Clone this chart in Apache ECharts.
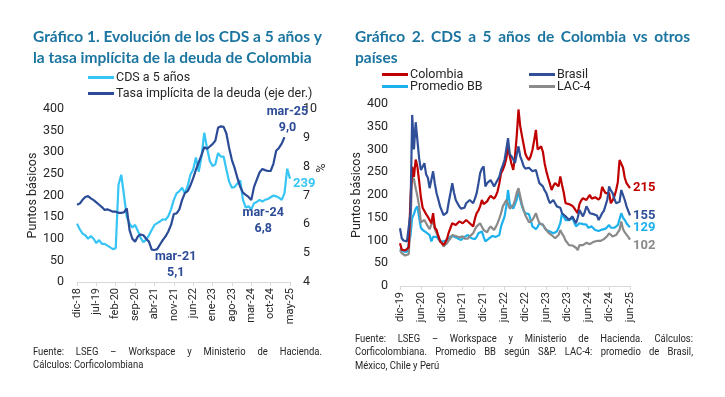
<!DOCTYPE html>
<html>
<head>
<meta charset="utf-8">
<script src="https://cdn.jsdelivr.net/npm/echarts@6/dist/echarts.min.js"></script>
<style>
  html, body { margin: 0; padding: 0; background: #fff; }
  #main { width: 725px; height: 397px; }
</style>
</head>
<body>
<div id="main"></div>
<script>
// meses abreviados para construir las etiquetas del eje
var mesAbr = ['ene','feb','mar','abr','may','jun','jul','ago','sep','oct','nov','dic'];

var buildMonths = function(year, month, count) {
    var out = [];
    for (var i = 0; i < count; i++) {
        var m = (month + i) % 12;
        var y = year + Math.floor((month + i) / 12);
        out.push(mesAbr[m] + '-' + String(y).slice(2));
    }
    return out;
};

// Gráfico 1: mensual dic-18 .. may-25
var mesesG1 = buildMonths(2018, 11, 78);
var cdsG1 = [135,122,112,108,100,106,100,90,97,88,
             88,84,80,76,78,225,248,200,150,135,
             126,132,118,102,92,98,108,120,132,136,
             140,145,144,152,168,190,205,210,218,205,
             222,248,260,288,255,290,345,310,280,268,
             272,298,290,290,260,232,218,220,228,235,
             190,172,175,168,182,185,190,186,190,192,
             196,200,198,195,190,205,262,239];
var tasaG1 = [6.68,6.72,6.85,6.95,6.98,6.90,6.84,6.76,6.68,6.60,
              6.50,6.52,6.48,6.44,6.44,6.40,6.40,6.42,6.55,5.80,
              5.50,5.40,5.58,5.65,5.62,5.50,5.40,5.12,5.11,5.14,
              5.30,5.45,5.58,5.75,5.98,6.36,6.38,6.52,6.85,7.08,
              7.15,7.35,7.60,7.90,8.15,8.40,8.68,8.62,8.70,8.78,
              8.90,9.35,9.40,9.38,9.15,8.65,8.23,7.95,7.60,7.30,
              7.10,7.02,6.95,6.84,7.30,7.55,7.80,7.92,7.88,7.85,
              7.85,8.10,8.55,8.65,8.80,9.02,null,null];
var hitosG1 = [['mar-21', 5.12, [24, 15]], ['mar-24', 6.84, [12, 21]], ['mar-25', 9.02, [3, -17]]];

// Gráfico 2: quincenal dic-19 .. jun-25
var mesesG2 = buildMonths(2019, 11, 67);
var quincenasG2 = [];
mesesG2.forEach(function(m) { quincenasG2.push(m); quincenasG2.push(m + ' (2q)'); });
quincenasG2 = quincenasG2.slice(0, 133);

var colombia = [94,80,76,78,74,85,190,262,240,278,
                262,230,195,172,165,158,152,145,138,160,
                128,123,110,98,94,90,96,104,118,128,
                138,136,134,138,142,140,138,142,145,141,
                138,134,131,148,160,166,175,189,180,178,
                186,193,198,202,192,198,208,225,248,255,
                265,280,307,285,268,255,285,330,388,351,
                330,310,290,282,277,285,299,320,343,300,
                300,307,295,270,252,238,225,211,220,226,
                222,219,241,222,205,182,178,180,182,176,
                171,165,160,180,188,193,190,189,195,200,
                192,188,195,197,190,195,218,210,204,200,
                204,182,188,197,210,228,277,274,260,238,
                226,222,215];
var brasil = [127,105,100,99,98,100,160,376,300,360,
              320,280,255,262,270,245,238,215,211,252,
              225,204,190,175,165,156,158,162,185,205,
              226,205,189,182,175,170,167,172,182,186,
              189,185,182,192,204,225,248,258,263,219,
              226,228,233,226,219,222,233,240,255,265,
              277,300,325,290,285,278,270,290,307,285,
              275,263,258,255,260,263,252,248,255,240,
              226,222,219,210,204,192,182,186,189,182,
              175,175,172,160,158,153,150,145,148,153,
              145,138,150,167,160,153,162,175,168,160,
              162,158,160,155,145,152,160,165,167,190,
              219,210,204,192,182,182,185,211,200,189,
              175,165,155];
var promedioBB = [83,80,76,77,75,78,110,150,158,170,
                  175,150,128,123,120,118,120,112,98,108,
                  112,108,104,98,97,98,100,101,103,109,
                  108,109,107,105,104,101,104,108,110,112,
                  109,105,104,103,108,116,118,120,108,98,
                  102,104,108,110,114,108,104,112,131,142,
                  153,175,211,180,175,170,167,190,211,190,
                  175,165,160,160,158,145,131,131,125,130,
                  138,136,134,128,123,121,120,118,116,117,
                  120,128,138,160,152,145,146,145,148,149,
                  140,131,135,138,137,136,138,135,128,130,
                  131,128,123,124,121,120,124,127,126,130,
                  134,128,124,128,131,134,138,160,150,145,
                  138,133,129];
var lac4 = [79,72,68,67,66,70,140,240,235,215,
            197,175,140,138,145,138,131,125,123,145,
            125,116,108,101,95,87,90,94,100,105,
            112,116,110,109,107,109,109,104,101,104,
            109,112,116,124,131,135,138,130,123,120,
            118,126,131,127,123,130,138,148,160,175,
            182,189,180,170,167,178,189,205,215,197,
            180,167,155,148,140,138,145,152,160,148,
            138,138,135,128,123,118,116,112,109,105,
            101,112,123,115,109,100,95,90,87,89,
            90,84,79,90,94,90,87,95,98,92,
            90,97,101,99,98,99,100,103,105,110,
            116,112,109,110,112,118,123,142,125,118,
            114,108,102];

var C_CDS = '#36C5F4', C_TASA = '#2B4B97';
var C_COL = '#C00000', C_BRA = '#2F4F99', C_BB = '#1CB0EC', C_LAC = '#8A8A8A';
var TITLE = '#1B75A0', TXT = '#262626', AXIS = '#D9D9D9';
var FONT = 'Roboto, "Liberation Sans", sans-serif';
var F_TITLE = 'bold 15.5px Lato, "Open Sans", sans-serif';
var F_SRC = '10.5px Roboto, sans-serif';

// texto justificado: una palabra por elemento, repartiendo el espacio sobrante
var measureCtx = document.createElement('canvas').getContext('2d');
var lineText = function(text, font, x, y, width, color, sx, justify) {
    measureCtx.font = font;
    var words = text.split(' ').filter(function(w) { return w.length; });
    var ws = words.map(function(w) { return measureCtx.measureText(w).width * sx; });
    var total = ws.reduce(function(a, b) { return a + b; }, 0);
    var space = measureCtx.measureText(' ').width * sx;
    var gap = justify ? (width - total) / (words.length - 1) : space;
    var cx = x, els = [];
    words.forEach(function(w, i) {
        els.push({type: 'text', x: cx, y: y, scaleX: sx, silent: true,
                  style: {text: w, font: font, fill: color, verticalAlign: 'middle'}});
        cx += ws[i] + gap;
    });
    return els;
};

var textos = [].concat(
    lineText('Gráfico 1.  Evolución de los CDS a 5 años y', F_TITLE, 33, 37, 289, TITLE, 1, true),
    lineText('la tasa implícita de la deuda de Colombia', F_TITLE, 33, 58, 0, TITLE, 1, false),
    lineText('Gráfico 2.  CDS a 5 años de Colombia vs otros', F_TITLE, 355, 37, 335, TITLE, 1, true),
    lineText('países', F_TITLE, 355, 58, 0, TITLE, 1, false),
    lineText('Fuente: LSEG – Workspace y Ministerio de Hacienda.', F_SRC, 33, 352, 289, TXT, 0.9, true),
    lineText('Cálculos: Corficolombiana', F_SRC, 33, 365, 0, TXT, 0.9, false),
    lineText('Fuente: LSEG – Workspace y Ministerio de Hacienda. Cálculos:', F_SRC, 355, 339, 338, TXT, 0.9, true),
    lineText('Corficolombiana. Promedio BB según S&P. LAC-4: promedio de Brasil,', F_SRC, 355, 352, 338, TXT, 0.9, true),
    lineText('México, Chile y Perú', F_SRC, 355, 366, 0, TXT, 0.9, false)
);
textos.push({type: 'text', x: 319, y: 168, rotation: -Math.PI / 2, silent: true,
             style: {text: '%', font: '12.5px ' + FONT, fill: TXT, align: 'center', verticalAlign: 'middle'}});

var myChart = echarts.init(document.getElementById('main'));

var xAxisBase = function(grid, data, every) {
    return {
        type: 'category', gridIndex: grid, data: data, boundaryGap: false,
        axisLine: {lineStyle: {color: AXIS}},
        axisTick: {show: true, interval: every, length: 4, lineStyle: {color: AXIS}},
        axisLabel: {interval: every, rotate: 90, color: TXT, fontSize: 11, fontFamily: FONT, margin: 6,
                    formatter: function(v) { return v.replace(' (2q)', ''); }}
    };
};

var endLbl = function(color, dy) {
    return {show: true, color: color, fontWeight: 'bold', fontSize: 13, fontFamily: FONT,
            distance: 3, offset: [0, dy], formatter: function(p) { return p.value; }};
};

var legendText = {color: TXT, fontSize: 12.5, fontFamily: FONT, padding: [0, 0, 0, -3]};

option = {
    animation: false,
    backgroundColor: '#fff',
    graphic: textos,
    legend: [
        {left: 88, top: 71, padding: 0, orient: 'vertical', itemGap: 3, itemWidth: 26, itemHeight: 3, icon: 'rect',
         data: ['CDS a 5 años', 'Tasa implícita de la deuda (eje der.)'], textStyle: legendText},
        {left: 382, top: 68, padding: 0, orient: 'vertical', itemGap: -1, itemWidth: 26, itemHeight: 3, icon: 'rect',
         data: ['Colombia', 'Promedio BB'], textStyle: legendText},
        {left: 529, top: 68, padding: 0, orient: 'vertical', itemGap: -1, itemWidth: 26, itemHeight: 3, icon: 'rect',
         data: ['Brasil', 'LAC-4'], textStyle: legendText}
    ],
    grid: [
        {left: 77, top: 109, width: 213, height: 173},
        {left: 400, top: 104, width: 230, height: 182}
    ],
    xAxis: [xAxisBase(0, mesesG1, 6), xAxisBase(1, quincenasG2, 11)],
    yAxis: [
        {type: 'value', gridIndex: 0, min: 0, max: 400, interval: 50, splitLine: {show: false},
         axisLabel: {color: TXT, fontSize: 12.5, fontFamily: FONT, margin: 13},
         name: 'Puntos básicos', nameLocation: 'middle', nameGap: 25,
         nameTextStyle: {color: TXT, fontSize: 12.5, fontFamily: FONT}},
        {type: 'value', gridIndex: 0, position: 'right', min: 4, max: 10, interval: 1, splitLine: {show: false},
         axisLabel: {color: TXT, fontSize: 12.5, fontFamily: FONT, margin: 13}},
        {type: 'value', gridIndex: 1, min: 0, max: 400, interval: 50, splitLine: {show: false},
         axisLabel: {color: TXT, fontSize: 12.5, fontFamily: FONT, margin: 12},
         name: 'Puntos básicos', nameLocation: 'middle', nameGap: 24,
         nameTextStyle: {color: TXT, fontSize: 12.5, fontFamily: FONT}}
    ],
    series: [
        {name: 'CDS a 5 años', type: 'line', xAxisIndex: 0, yAxisIndex: 0, data: cdsG1,
         symbol: 'none', lineStyle: {width: 2.2, color: C_CDS}, itemStyle: {color: C_CDS},
         endLabel: endLbl(C_CDS, 5)},
        {name: 'Tasa implícita de la deuda (eje der.)', type: 'line', xAxisIndex: 0, yAxisIndex: 1, data: tasaG1,
         symbol: 'none', lineStyle: {width: 2.2, color: C_TASA}, itemStyle: {color: C_TASA},
         markPoint: {
             symbol: 'circle', symbolSize: 0, silent: true,
             data: hitosG1.map(function(h) {
                 return {coord: [h[0], h[1]],
                         label: {show: true, position: 'inside', offset: h[2], color: C_TASA, fontWeight: 'bold',
                                 fontSize: 12.5, fontFamily: FONT, lineHeight: 16, align: 'center',
                                 formatter: h[0] + '\n' + h[1].toFixed(1).replace('.', ',')}};
             })
         }},
        {name: 'Promedio BB', type: 'line', xAxisIndex: 1, yAxisIndex: 2, data: promedioBB,
         symbol: 'none', lineStyle: {width: 2.2, color: C_BB}, itemStyle: {color: C_BB},
         endLabel: endLbl(C_BB, 0)},
        {name: 'LAC-4', type: 'line', xAxisIndex: 1, yAxisIndex: 2, data: lac4,
         symbol: 'none', lineStyle: {width: 2.2, color: C_LAC}, itemStyle: {color: C_LAC},
         endLabel: endLbl(C_LAC, 6)},
        {name: 'Colombia', type: 'line', xAxisIndex: 1, yAxisIndex: 2, data: colombia,
         symbol: 'none', lineStyle: {width: 2.2, color: C_COL}, itemStyle: {color: C_COL},
         endLabel: endLbl(C_COL, 0)},
        {name: 'Brasil', type: 'line', xAxisIndex: 1, yAxisIndex: 2, data: brasil,
         symbol: 'none', lineStyle: {width: 2.2, color: C_BRA}, itemStyle: {color: C_BRA},
         endLabel: endLbl(C_BRA, 0)}
    ]
};

myChart.setOption(option);
</script>
</body>
</html>
